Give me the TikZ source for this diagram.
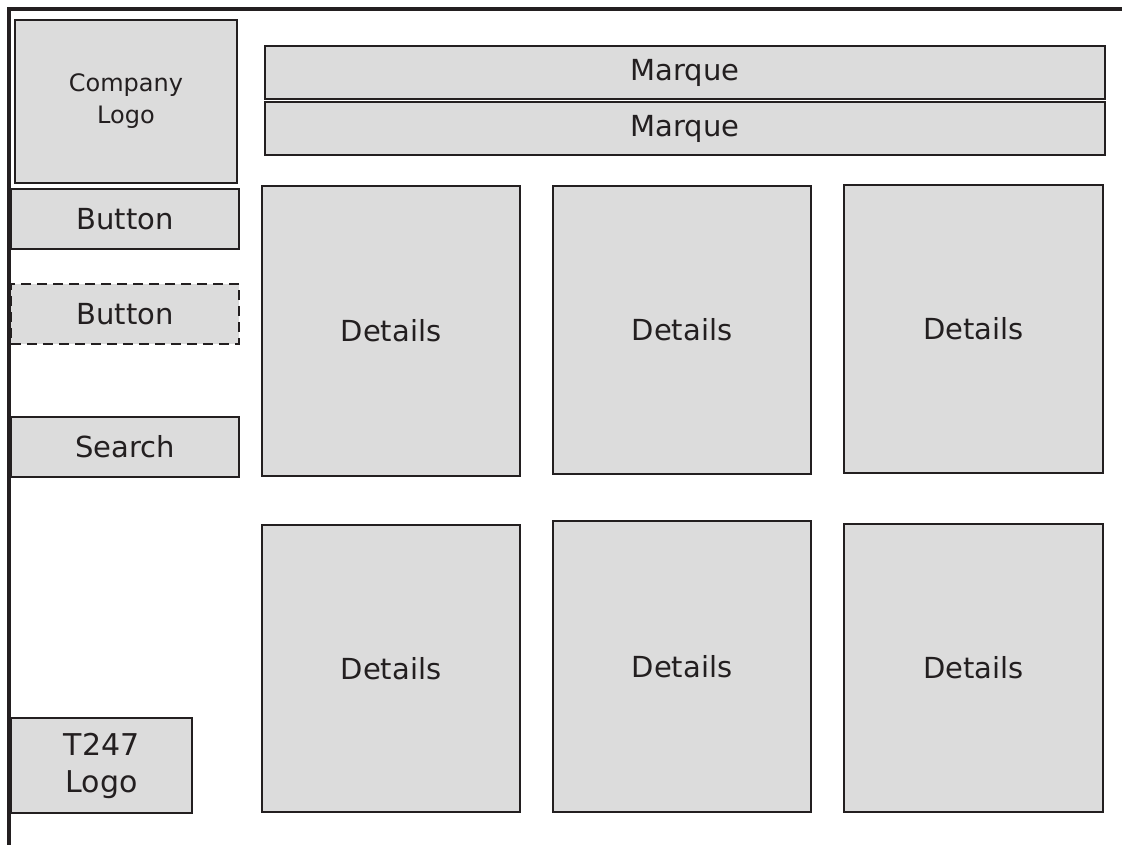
\documentclass[tikz,border=0pt]{standalone}
\usepackage{fontspec}
\setmainfont{DejaVu Sans}
\usepackage{tikz}
\usetikzlibrary{positioning}

\definecolor{boxfill}{HTML}{DCDCDC}
\definecolor{ink}{HTML}{231F20}

\begin{document}
\begin{tikzpicture}[x=1pt, y=-1pt,
        panel/.style={draw=ink, fill=boxfill, line width=2pt, anchor=north west, inner sep=0pt,
                      text=ink, align=center, font=\fontsize{29}{36}\selectfont},
        ghost/.style={panel, dash pattern=on 10pt off 6pt}]
    \useasboundingbox (0,0) rectangle (1122,845);

    % frame
    \draw[ink, line width=4pt] (9,845) |- (1122,9);

    % left column
    \node (Logo) [panel, minimum width=222pt, minimum height=163pt, font=\fontsize{24}{32}\selectfont] at (14,19) {Company\\Logo};
    \node (BtnA) [panel, minimum width=228pt, minimum height=60pt] at (10,188) {Button};
    \node (BtnB) [ghost, minimum width=228pt, minimum height=60pt] at (10,283) {Button};
    \node (Search) [panel, minimum width=228pt, minimum height=60pt] at (10,416) {Search};
    \node (TLogo) [panel, minimum width=181pt, minimum height=95pt, font=\fontsize{30}{37}\selectfont] at (10,717) {T247\\Logo};

    % banners
    \node (MarqueA) [panel, minimum width=840pt, minimum height=53pt] at (264,45) {Marque};
    \node (MarqueB) [panel, minimum width=840pt, minimum height=53pt] at (264,101) {Marque};

    % details grid
    \node (DetA) [panel, minimum width=258pt, minimum height=290pt] at (261,185) {Details};
    \node (DetB) [panel, minimum width=258pt, minimum height=288pt] at (552,185) {Details};
    \node (DetC) [panel, minimum width=259pt, minimum height=288pt] at (843,184) {Details};
    \node (DetD) [panel, minimum width=258pt, minimum height=287pt] at (261,524) {Details};
    \node (DetE) [panel, minimum width=258pt, minimum height=291pt] at (552,520) {Details};
    \node (DetF) [panel, minimum width=259pt, minimum height=288pt] at (843,523) {Details};
\end{tikzpicture}
\end{document}
